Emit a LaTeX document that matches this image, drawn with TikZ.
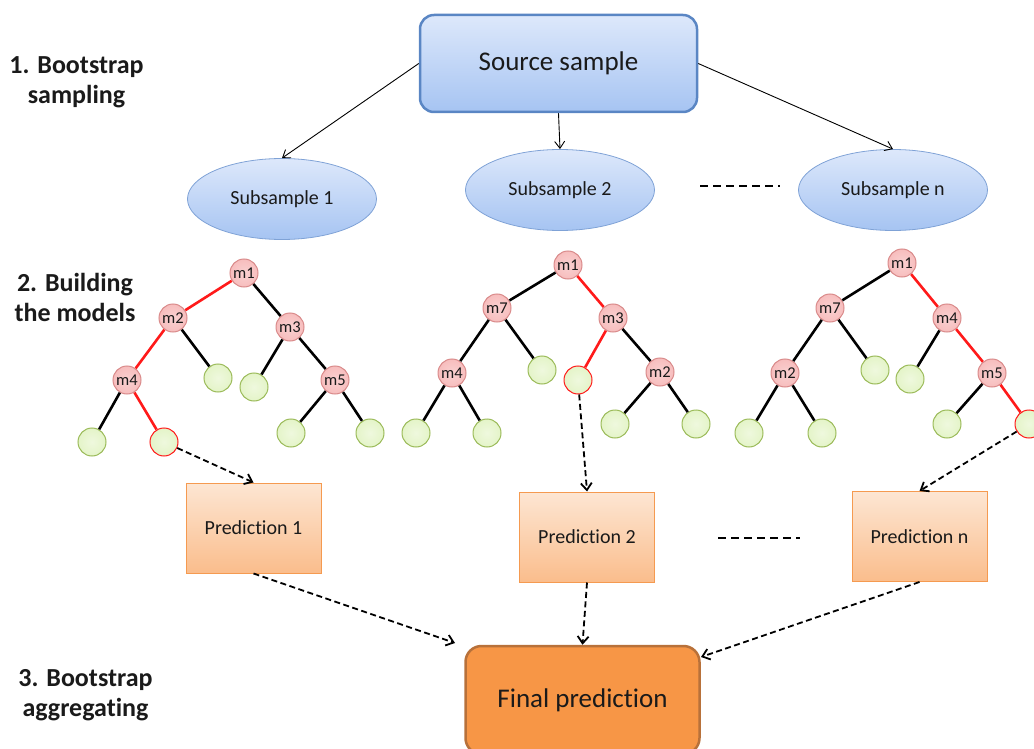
\documentclass[tikz,border=0pt]{standalone}
\usepackage{fontspec}
\setmainfont{Carlito}[Ligatures=CommonOff]
\usetikzlibrary{shapes.geometric,arrows.meta}
\definecolor{txt}{HTML}{1A1A1A}
\definecolor{srcborder}{HTML}{5A86C4}
\definecolor{srctop}{HTML}{DDE8FB}
\definecolor{srcbot}{HTML}{A6C4F2}
\definecolor{ellborder}{HTML}{7FA2D6}
\definecolor{mfill}{HTML}{F7BDBD}
\definecolor{mborder}{HTML}{D98A8A}
\definecolor{lfill}{HTML}{E4F4C8}
\definecolor{lborder}{HTML}{9BBB59}
\definecolor{ptop}{HTML}{FDE6D3}
\definecolor{pbot}{HTML}{FABD8C}
\definecolor{pborder}{HTML}{F59A50}
\definecolor{ffill}{HTML}{F79646}
\definecolor{fborder}{HTML}{B8713A}
\definecolor{redpath}{HTML}{FF1A1A}
\tikzset{
  srcbox/.style={draw=srcborder, line width=2.5pt, rounded corners=14pt, top color=srctop, bottom color=srcbot, minimum width=277pt, minimum height=97pt, font=\fontsize{27}{30}\selectfont, text=txt},
  subell/.style={ellipse, draw=ellborder, line width=0.8pt, top color=srctop, bottom color=srcbot, minimum width=189pt, minimum height=81pt, font=\fontsize{20}{24}\selectfont, text=txt},
  mnode/.style={circle, draw=mborder, line width=1pt, inner color=mfill!70!white, outer color=mfill, minimum size=28pt, inner sep=0pt, font=\fontsize{16.5}{18}\selectfont, text=txt},
  leaf/.style={circle, draw=lborder, line width=1pt, inner color=lfill!60!white, outer color=lfill, minimum size=28pt, inner sep=0pt},
  leafred/.style={leaf, draw=redpath},
  edge/.style={line width=2.6pt, black},
  redge/.style={line width=2.6pt, redpath},
  predbox/.style={draw=pborder, line width=1pt, top color=ptop, bottom color=pbot, minimum width=135pt, minimum height=90pt, font=\fontsize{20}{24}\selectfont, text=txt},
  finalbox/.style={draw=fborder, line width=2.5pt, rounded corners=16pt, fill=ffill, minimum width=234pt, minimum height=108pt, font=\fontsize{27}{30}\selectfont, text=txt},
  thinarrow/.style={line width=0.9pt, -{Straight Barb[length=7pt,width=10pt]}},
  dasharrow/.style={line width=1.8pt, dash pattern=on 6pt off 3.5pt, -{Straight Barb[length=7pt,width=11pt]}},
  sidelabel/.style={font=\bfseries\fontsize{26}{30}\selectfont, text=txt, align=center, inner sep=0pt},
  dashline/.style={line width=1.5pt, dash pattern=on 8pt off 5pt}
}
\begin{document}
\begin{tikzpicture}[x=1pt,y=-1pt]
\useasboundingbox (0,0) rectangle (1034,749);
% side labels
\node[sidelabel] (l1) at (76.5,82.5) {1. Bootstrap\\sampling};
\node[sidelabel] (l2) at (75,297) {2. Building\\the models};
\node[sidelabel] (l3) at (85.5,695) {3. Bootstrap\\aggregating};
% source
\node[srcbox] (src) at (558.5,63.5) {Source sample};
\node[subell] (s1) at (282,199) {Subsample 1};
\node[subell] (s2) at (560,190) {Subsample 2};
\node[subell] (sn) at (893,190) {Subsample n};
\draw[thinarrow] (src.west) -- (s1.north);
\draw[thinarrow] (src.south) -- (s2.north);
\draw[thinarrow] (src.east) -- (sn.north);
\coordinate (d1a) at (700,186);
\coordinate (d1b) at (780,186);
\draw[dashline] (d1a) -- (d1b);
% tree 1
\node[mnode] (a1) at (244,273) {m1};
\node[mnode] (a2) at (173,318) {m2};
\node[mnode] (a3) at (290,327) {m3};
\node[mnode] (a4) at (127,380) {m4};
\node[mnode] (a5) at (335,380) {m5};
\node[leaf] (al1) at (218,378) {};
\node[leaf] (al2) at (254,387) {};
\node[leaf] (al3) at (92,442) {};
\node[leafred] (al4) at (164,442) {};
\node[leaf] (al5) at (291,433) {};
\node[leaf] (al6) at (370,433) {};
\draw[redge] (a1) -- (a2);
\draw[redge] (a2) -- (a4);
\draw[redge] (a4) -- (al4);
\draw[edge] (a1) -- (a3);
\draw[edge] (a2) -- (al1);
\draw[edge] (a3) -- (al2);
\draw[edge] (a3) -- (a5);
\draw[edge] (a4) -- (al3);
\draw[edge] (a5) -- (al5);
\draw[edge] (a5) -- (al6);
% tree 2
\node[mnode] (b1) at (568,265) {m1};
\node[mnode] (b7) at (497,308) {m7};
\node[mnode] (b3) at (613,318) {m3};
\node[mnode] (b4) at (452,373) {m4};
\node[mnode] (b2) at (660,372) {m2};
\node[leaf] (bl1) at (542,370) {};
\node[leafred] (bl2) at (578,380) {};
\node[leaf] (bl3) at (416,433) {};
\node[leaf] (bl4) at (487,433) {};
\node[leaf] (bl5) at (615,424) {};
\node[leaf] (bl6) at (696,424) {};
\draw[redge] (b1) -- (b3);
\draw[redge] (b3) -- (bl2);
\draw[edge] (b1) -- (b7);
\draw[edge] (b7) -- (b4);
\draw[edge] (b7) -- (bl1);
\draw[edge] (b3) -- (b2);
\draw[edge] (b4) -- (bl3);
\draw[edge] (b4) -- (bl4);
\draw[edge] (b2) -- (bl5);
\draw[edge] (b2) -- (bl6);
% tree 3
\node[mnode] (c1) at (902,263) {m1};
\node[mnode] (c7) at (830,308) {m7};
\node[mnode] (c4) at (947,318) {m4};
\node[mnode] (c2) at (785,373) {m2};
\node[mnode] (c5) at (992,373) {m5};
\node[leaf] (cl1) at (875,370) {};
\node[leaf] (cl2) at (910,379) {};
\node[leaf] (cl3) at (749,433) {};
\node[leaf] (cl4) at (822,433) {};
\node[leaf] (cl5) at (947,424) {};
\node[leafred] (cl6) at (1029,424) {};
\draw[redge] (c1) -- (c4);
\draw[redge] (c4) -- (c5);
\draw[redge] (c5) -- (cl6);
\draw[edge] (c1) -- (c7);
\draw[edge] (c7) -- (c2);
\draw[edge] (c7) -- (cl1);
\draw[edge] (c4) -- (cl2);
\draw[edge] (c2) -- (cl3);
\draw[edge] (c2) -- (cl4);
\draw[edge] (c5) -- (cl5);
% predictions
\node[predbox] (p1) at (253.5,528) {Prediction 1};
\node[predbox] (p2) at (587,537) {Prediction 2};
\node[predbox] (pn) at (919.5,536.5) {Prediction n};
\coordinate (d2a) at (718,538);
\coordinate (d2b) at (800,538);
\draw[dashline] (d2a) -- (d2b);
\draw[dasharrow] (al4) -- (p1.north);
\draw[dasharrow] (bl2) -- (p2.north);
\draw[dasharrow] (cl6) -- (pn.north);
% final
\node[finalbox] (fin) at (582.5,700) {Final prediction};
\coordinate (fin1) at (455,643);
\coordinate (fin3) at (701,657);
\draw[dasharrow] (p1.south) -- (fin1);
\draw[dasharrow] (p2.south) -- (fin.north);
\draw[dasharrow] (pn.south) -- (fin3);
\end{tikzpicture}
\end{document}
